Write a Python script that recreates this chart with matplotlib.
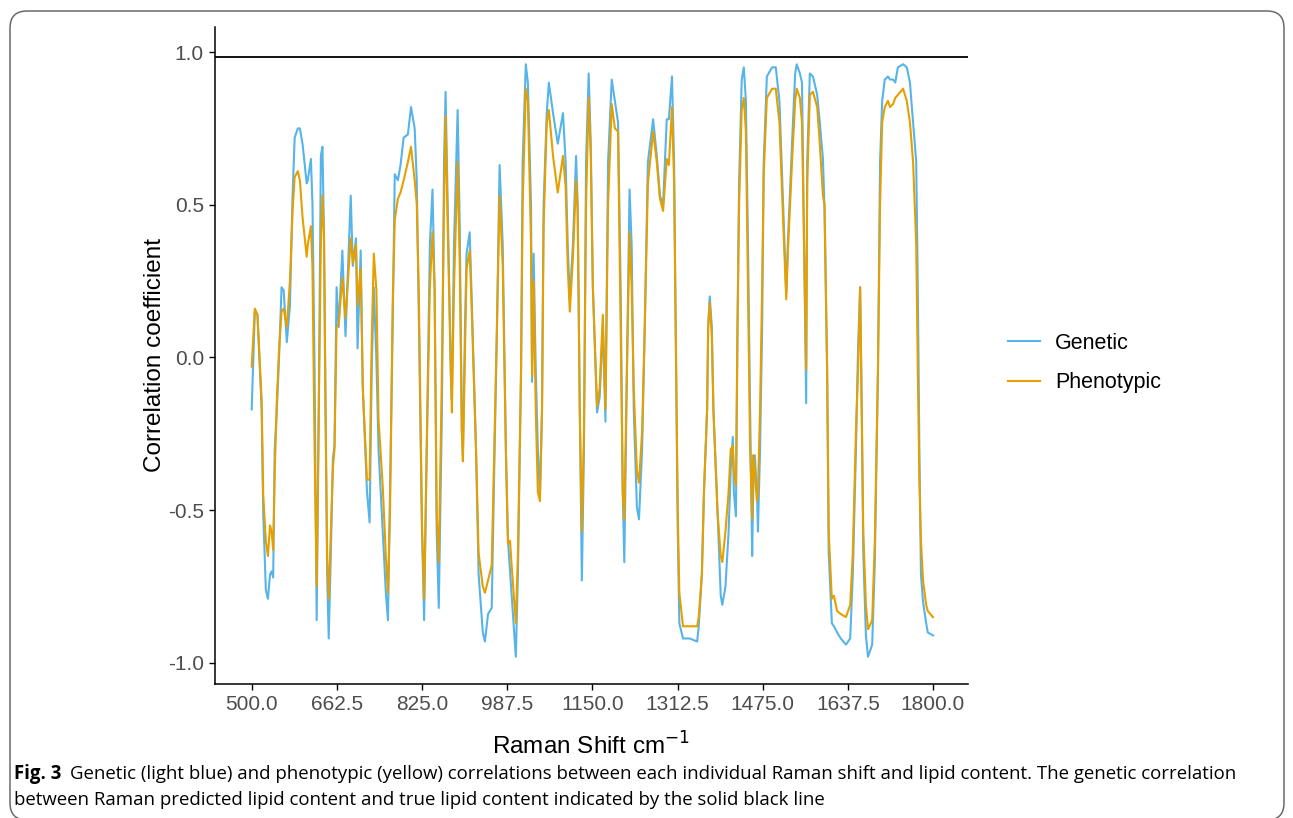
import matplotlib
matplotlib.use("Agg")
import matplotlib.pyplot as plt
from matplotlib.patches import FancyBboxPatch
import numpy as np

# Raman shift (cm^-1) sampled along the traced curves
shift = [500, 506, 511, 519, 522, 527, 531, 535, 538, 541,
         544, 548, 552, 557, 561, 567, 573, 578, 582, 588,
         592, 597, 605, 607, 613, 616, 620, 624, 628, 632,
         635, 638, 641, 644, 647, 651, 655, 658, 662, 666,
         673, 679, 689, 693, 699, 702, 708, 712, 720, 725,
         729, 733, 738, 742, 750, 756, 760, 764, 769, 773,
         779, 784, 790, 798, 804, 811, 815, 819, 825, 829,
         834, 840, 845, 849, 853, 857, 863, 867, 870, 874,
         880, 882, 886, 893, 897, 901, 903, 907, 910, 916,
         920, 928, 933, 941, 945, 951, 958, 962, 968, 973,
         979, 985, 989, 993, 996, 1004, 1008, 1014, 1017, 1023,
         1027, 1033, 1035, 1038, 1042, 1046, 1050, 1054, 1057, 1063,
         1067, 1075, 1084, 1094, 1099, 1103, 1107, 1113, 1119, 1122,
         1126, 1130, 1134, 1138, 1143, 1147, 1151, 1159, 1164, 1170,
         1175, 1180, 1187, 1193, 1199, 1204, 1208, 1211, 1216, 1221,
         1225, 1229, 1235, 1239, 1245, 1250, 1256, 1266, 1273, 1279,
         1285, 1292, 1296, 1302, 1306, 1309, 1313, 1316, 1323, 1336,
         1350, 1353, 1359, 1363, 1369, 1371, 1374, 1378, 1381, 1389,
         1395, 1398, 1404, 1410, 1414, 1418, 1420, 1424, 1427, 1430,
         1435, 1439, 1443, 1447, 1451, 1455, 1457, 1460, 1464, 1466,
         1470, 1474, 1477, 1483, 1493, 1500, 1507, 1514, 1520, 1523,
         1531, 1537, 1540, 1546, 1550, 1554, 1558, 1560, 1565, 1571,
         1579, 1584, 1590, 1593, 1598, 1601, 1607, 1611, 1617, 1624,
         1634, 1642, 1647, 1653, 1657, 1661, 1664, 1667, 1672, 1676,
         1684, 1689, 1695, 1699, 1703, 1708, 1714, 1718, 1724, 1728,
         1733, 1743, 1750, 1756, 1762, 1768, 1771, 1774, 1777, 1781,
         1787, 1790, 1800]

genetic = [-0.17, 0.15, 0.14, -0.17, -0.51, -0.76, -0.79, -0.71, -0.70, -0.72,
           -0.30, -0.17, -0.01, 0.23, 0.22, 0.05, 0.17, 0.53, 0.72, 0.75,
           0.75, 0.70, 0.57, 0.58, 0.65, 0.50, -0.04, -0.86, -0.17, 0.66,
           0.69, 0.40, -0.20, -0.71, -0.92, -0.64, -0.33, -0.29, 0.23, 0.10,
           0.35, 0.07, 0.53, 0.30, 0.39, 0.03, 0.35, -0.10, -0.44, -0.54,
           -0.04, 0.23, -0.01, -0.30, -0.57, -0.77, -0.86, -0.44, 0.10, 0.60,
           0.58, 0.63, 0.72, 0.73, 0.82, 0.75, 0.58, 0.12, -0.57, -0.86,
           -0.30, 0.37, 0.55, 0.23, -0.57, -0.82, -0.17, 0.64, 0.87, 0.50,
           -0.06, -0.14, 0.37, 0.81, 0.43, -0.24, -0.32, 0.10, 0.34, 0.41,
           0.18, -0.30, -0.71, -0.90, -0.93, -0.84, -0.82, -0.44, 0.10, 0.63,
           0.37, -0.30, -0.60, -0.70, -0.77, -0.98, -0.71, -0.04, 0.64, 0.96,
           0.90, 0.50, -0.08, 0.34, -0.04, -0.30, -0.45, -0.17, 0.50, 0.80,
           0.90, 0.80, 0.70, 0.80, 0.64, 0.37, 0.19, 0.37, 0.66, 0.50,
           -0.17, -0.73, -0.30, 0.64, 0.93, 0.70, 0.23, -0.18, -0.13, 0.10,
           -0.21, 0.64, 0.91, 0.84, 0.77, 0.23, -0.44, -0.67, -0.04, 0.55,
           0.37, -0.17, -0.49, -0.53, -0.30, 0.10, 0.64, 0.78, 0.66, 0.53,
           0.50, 0.78, 0.78, 0.92, 0.64, 0.10, -0.57, -0.87, -0.92, -0.92,
           -0.93, -0.88, -0.71, -0.44, -0.17, 0.10, 0.20, 0.10, -0.17, -0.51,
           -0.78, -0.81, -0.75, -0.57, -0.37, -0.26, -0.44, -0.52, 0.10, 0.57,
           0.91, 0.95, 0.84, 0.37, -0.17, -0.65, -0.44, -0.32, -0.44, -0.57,
           -0.30, 0.10, 0.64, 0.92, 0.95, 0.95, 0.84, 0.50, 0.21, 0.37,
           0.70, 0.93, 0.96, 0.93, 0.90, 0.37, -0.15, 0.64, 0.93, 0.92,
           0.86, 0.77, 0.65, 0.49, -0.04, -0.64, -0.87, -0.88, -0.90, -0.92,
           -0.94, -0.92, -0.71, -0.30, 0.03, 0.23, -0.17, -0.64, -0.91, -0.98,
           -0.94, -0.67, -0.04, 0.64, 0.84, 0.91, 0.92, 0.91, 0.91, 0.90,
           0.95, 0.96, 0.95, 0.90, 0.77, 0.64, 0.23, -0.30, -0.71, -0.80,
           -0.87, -0.90, -0.91]

phenotypic = [-0.03, 0.16, 0.14, -0.14, -0.45, -0.60, -0.65, -0.55, -0.57, -0.63,
              -0.37, -0.14, 0.02, 0.15, 0.16, 0.10, 0.25, 0.48, 0.59, 0.61,
              0.58, 0.46, 0.33, 0.37, 0.43, 0.29, -0.30, -0.75, -0.17, 0.37,
              0.53, 0.40, -0.17, -0.65, -0.79, -0.57, -0.36, -0.30, 0.10, 0.11,
              0.26, 0.13, 0.39, 0.31, 0.37, 0.17, 0.29, -0.10, -0.40, -0.40,
              0.05, 0.34, 0.22, -0.20, -0.42, -0.65, -0.77, -0.50, 0.17, 0.45,
              0.52, 0.54, 0.58, 0.64, 0.69, 0.58, 0.50, 0.20, -0.55, -0.79,
              -0.30, 0.23, 0.41, 0.23, -0.51, -0.67, -0.04, 0.50, 0.79, 0.43,
              -0.04, -0.18, 0.23, 0.64, 0.30, -0.24, -0.34, 0.03, 0.29, 0.35,
              0.15, -0.30, -0.64, -0.75, -0.77, -0.73, -0.68, -0.37, 0.10, 0.53,
              0.30, -0.30, -0.61, -0.60, -0.68, -0.87, -0.64, -0.04, 0.50, 0.88,
              0.84, 0.37, -0.06, 0.25, -0.17, -0.44, -0.47, -0.17, 0.43, 0.77,
              0.81, 0.66, 0.54, 0.66, 0.56, 0.30, 0.15, 0.33, 0.58, 0.48,
              -0.17, -0.57, -0.24, 0.50, 0.85, 0.66, 0.23, -0.16, -0.10, 0.14,
              -0.17, 0.50, 0.83, 0.75, 0.74, 0.10, -0.44, -0.53, -0.04, 0.41,
              0.23, -0.10, -0.37, -0.41, -0.24, 0.10, 0.57, 0.74, 0.64, 0.52,
              0.48, 0.65, 0.63, 0.82, 0.57, 0.10, -0.51, -0.77, -0.88, -0.88,
              -0.88, -0.85, -0.71, -0.44, -0.17, 0.10, 0.18, 0.07, -0.17, -0.51,
              -0.65, -0.67, -0.57, -0.44, -0.30, -0.29, -0.37, -0.42, 0.10, 0.50,
              0.81, 0.85, 0.74, 0.23, -0.30, -0.53, -0.32, -0.37, -0.47, -0.44,
              -0.17, 0.23, 0.60, 0.85, 0.88, 0.88, 0.77, 0.45, 0.19, 0.34,
              0.64, 0.84, 0.88, 0.85, 0.77, 0.37, -0.04, 0.57, 0.86, 0.87,
              0.82, 0.70, 0.53, 0.50, -0.04, -0.57, -0.79, -0.78, -0.83, -0.84,
              -0.85, -0.81, -0.64, -0.24, -0.04, 0.23, -0.17, -0.57, -0.81, -0.89,
              -0.86, -0.60, -0.04, 0.50, 0.77, 0.82, 0.84, 0.82, 0.83, 0.85,
              0.86, 0.88, 0.84, 0.77, 0.64, 0.37, -0.04, -0.40, -0.60, -0.73,
              -0.81, -0.83, -0.85]

# genetic correlation of Raman-predicted vs true lipid content
predicted_corr = 0.984

x_ticks = [500.0, 662.5, 825.0, 987.5, 1150.0, 1312.5, 1475.0, 1637.5, 1800.0]
y_ticks = [-1.0, -0.5, 0.0, 0.5, 1.0]

caption_bold = "Fig. 3"
caption_line1 = ("Genetic (light blue) and phenotypic (yellow) correlations between each individual "
                 "Raman shift and lipid content. The genetic correlation")
caption_line2 = "between Raman predicted lipid content and true lipid content indicated by the solid black line"

W, H = 1293, 818
fig = plt.figure(figsize=(W / 100, H / 100), dpi=100)
sans = ["Liberation Sans", "DejaVu Sans"]
cap_font = ["Open Sans", "Noto Sans", "DejaVu Sans"]

# rounded frame around the figure
frame = FancyBboxPatch((10 / 100, -2 / 100), (W - 19) / 100, (H - 9) / 100,
                       boxstyle="round,pad=0,rounding_size=0.17",
                       transform=fig.dpi_scale_trans, facecolor="none",
                       edgecolor="#6a6a6a", linewidth=1.1, clip_on=False)
fig.patches.append(frame)

left, right, top, bottom = 215, 968, 27, 684
ax = fig.add_axes([left / W, 1 - bottom / H, (right - left) / W, (bottom - top) / H])

ax.plot(shift, genetic, color="#56B4E9", lw=1.5, label="Genetic", solid_joinstyle="round")
ax.plot(shift, phenotypic, color="#E69F00", lw=1.5, label="Phenotypic", solid_joinstyle="round")
ax.axhline(predicted_corr, color="black", lw=1.3)

ax.set_xlim(430, 1866.8)
ax.set_ylim(-1.069, 1.082)
ax.set_xticks(x_ticks)
ax.set_xticklabels([f"{v:.1f}" for v in x_ticks])
ax.set_yticks(y_ticks)
ax.set_yticklabels([f"{v:.1f}" for v in y_ticks])
for s in ["top", "right"]:
    ax.spines[s].set_visible(False)
for s in ["left", "bottom"]:
    ax.spines[s].set_linewidth(1.1)
ax.tick_params(length=4, width=1.0, colors="black", labelcolor="#4d4d4d",
               labelsize=15, pad=4)
for lab in ax.get_xticklabels() + ax.get_yticklabels():
    lab.set_family(sans)

ax.set_xlabel("Raman Shift cm$^{-1}$", fontsize=17.5, family=sans, labelpad=13)
ax.set_ylabel("Correlation coefficient", fontsize=17.5, family=sans, labelpad=1)

leg = fig.legend(loc="center left", bbox_to_anchor=(1008 / W, 1 - 363 / H),
                 frameon=False, prop={"family": sans, "size": 15.5},
                 handlelength=1.5, handletextpad=0.7, labelspacing=0.85,
                 borderpad=0, borderaxespad=0)

# caption
cap_size = 13.45
tb = fig.text(14 / W, 1 - 774 / H, caption_bold, fontsize=cap_size, weight="bold",
              family=cap_font, va="center", ha="left")
fig.canvas.draw()
bb = tb.get_window_extent(fig.canvas.get_renderer())
fig.text((bb.x1 + 9) / W, 1 - 774 / H, caption_line1, fontsize=cap_size,
         family=cap_font, va="center", ha="left")
fig.text(14 / W, 1 - 800 / H, caption_line2, fontsize=cap_size,
         family=cap_font, va="center", ha="left")

fig.savefig("out.png", dpi=100)
